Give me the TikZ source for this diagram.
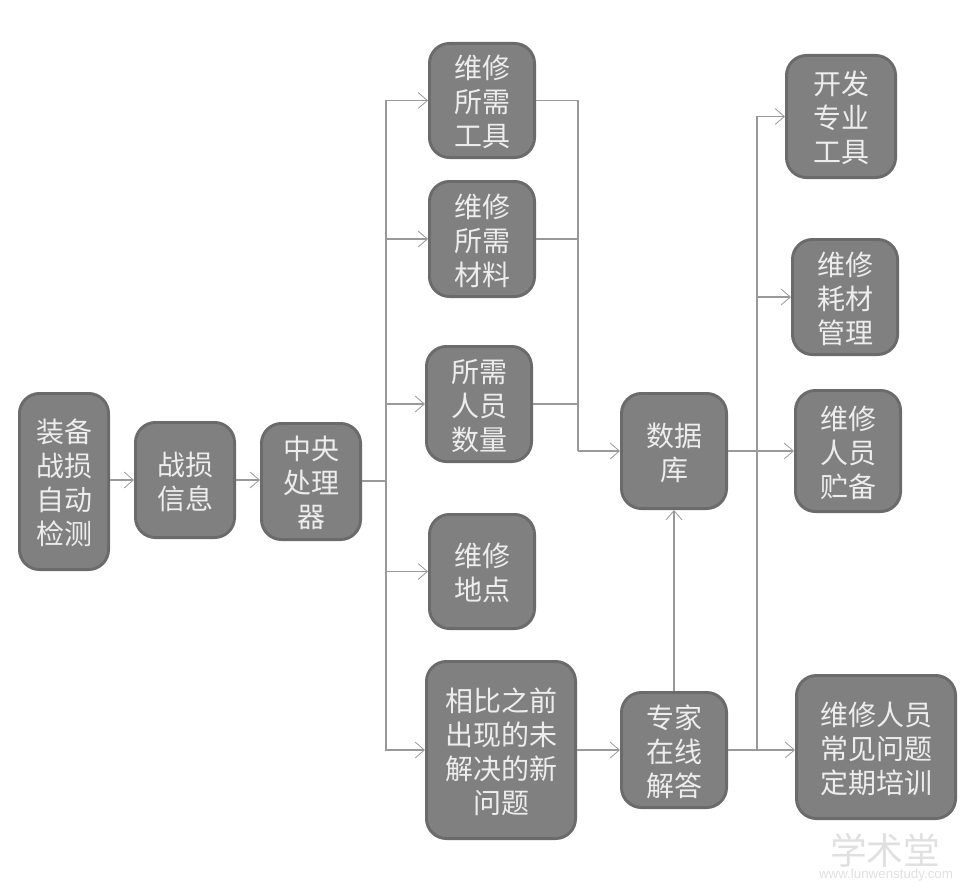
\documentclass[tikz,border=0pt]{standalone}
\usepackage{fontspec}
\setmainfont{Noto Sans CJK SC}
\setsansfont{Liberation Sans}
\usetikzlibrary{arrows.meta,calc}
\definecolor{boxfill}{gray}{0.50}
\definecolor{boxline}{gray}{0.42}
\definecolor{conn}{gray}{0.60}
\definecolor{boxtext}{gray}{0.93}
\definecolor{mark}{gray}{0.88}
\tikzset{
  x=0.75pt,y=-0.75pt,
  box/.style={draw=boxline,fill=boxfill,line width=2.2pt,rounded corners=15pt,
    text=boxtext,align=center,inner sep=0pt,font=\fontsize{21}{25.5}\selectfont},
  conline/.style={draw=conn,line width=1pt},
  arr/.style={conline,-{Straight Barb[length=7pt,width=12pt,line width=0.6pt]}},
  wm/.style={text=mark,inner sep=0pt},
}
\newcommand{\bx}[6]{% name, left, top, right, bottom, text
  \node[box,minimum width=#4*0.75pt-#2*0.75pt-2.2pt,minimum height=#5*0.75pt-#3*0.75pt-2.2pt] (#1) at ({(#2+#4)/2},{(#3+#5)/2}) {\rule{0pt}{20pt}#6};}
\begin{document}
\begin{tikzpicture}
\useasboundingbox (0,0) rectangle (969,895);
\bx{a}{18}{392}{110}{571}{装备\\战损\\自动\\检测}
\bx{b}{134}{421}{236}{539}{战损\\信息}
\bx{c}{260}{422}{362}{541}{中央\\处理\\器}
\bx{d}{428}{42}{536}{159}{维修\\所需\\工具}
\bx{e}{428}{180}{536}{298}{维修\\所需\\材料}
\bx{f}{425}{345}{533}{463}{所需\\人员\\数量}
\bx{g}{428}{513}{536}{630}{维修\\地点}
\bx{h}{425}{660}{577}{840}{相比之前\\出现的未\\解决的新\\问题}
\bx{i}{620}{392}{728}{510}{数据\\库}
\bx{j}{620}{691}{728}{809}{专家\\在线\\解答}
\bx{k}{785}{54}{897}{179}{开发\\专业\\工具}
\bx{l}{791}{238}{899}{356}{维修\\耗材\\管理}
\bx{m}{794}{389}{902}{513}{维修\\人员\\贮备}
\bx{n}{795}{674}{957}{820}{维修人员\\常见问题\\定期培训}
\coordinate (t1) at (386,481);
\coordinate (t2) at (578,451);
\coordinate (t3) at (757,451);
\draw[arr] (a.east |- b.center) -- (b.west);
\draw[arr] (b.east) -- (c.west |- b.east);
\draw[conline] (c.east |- t1) -- (t1);
\draw[arr] (t1) |- (d.west);
\draw[arr] (t1) |- (e.west);
\draw[arr] (t1) |- (f.west);
\draw[arr] (t1) |- (g.west);
\draw[arr] (t1) |- (h.west);
\draw[conline] (d.east) -| (t2);
\draw[conline] (e.east) -| (t2);
\draw[conline] (f.east) -| (t2);
\draw[arr] (t2) -- (i.west);
\draw[arr] (i.east) -- (m.west);
\draw[arr] (t3) |- (k.west);
\draw[arr] (t3) |- (l.west);
\draw[arr] (h.east) -- (j.west);
\draw[arr] (j.north) -- (i.south);
\draw[arr] (j.east) -- (n.west |- j.east);
\draw[conline] (t3) -- (t3 |- j.east);
\node[wm,font=\fontsize{27.5}{30}\selectfont] (w1) at (885,850) {学术堂};
\node[wm,font=\sffamily\fontsize{10}{12}\selectfont] (w2) at (886,875) {www.lunwenstudy.com};
\end{tikzpicture}
\end{document}
